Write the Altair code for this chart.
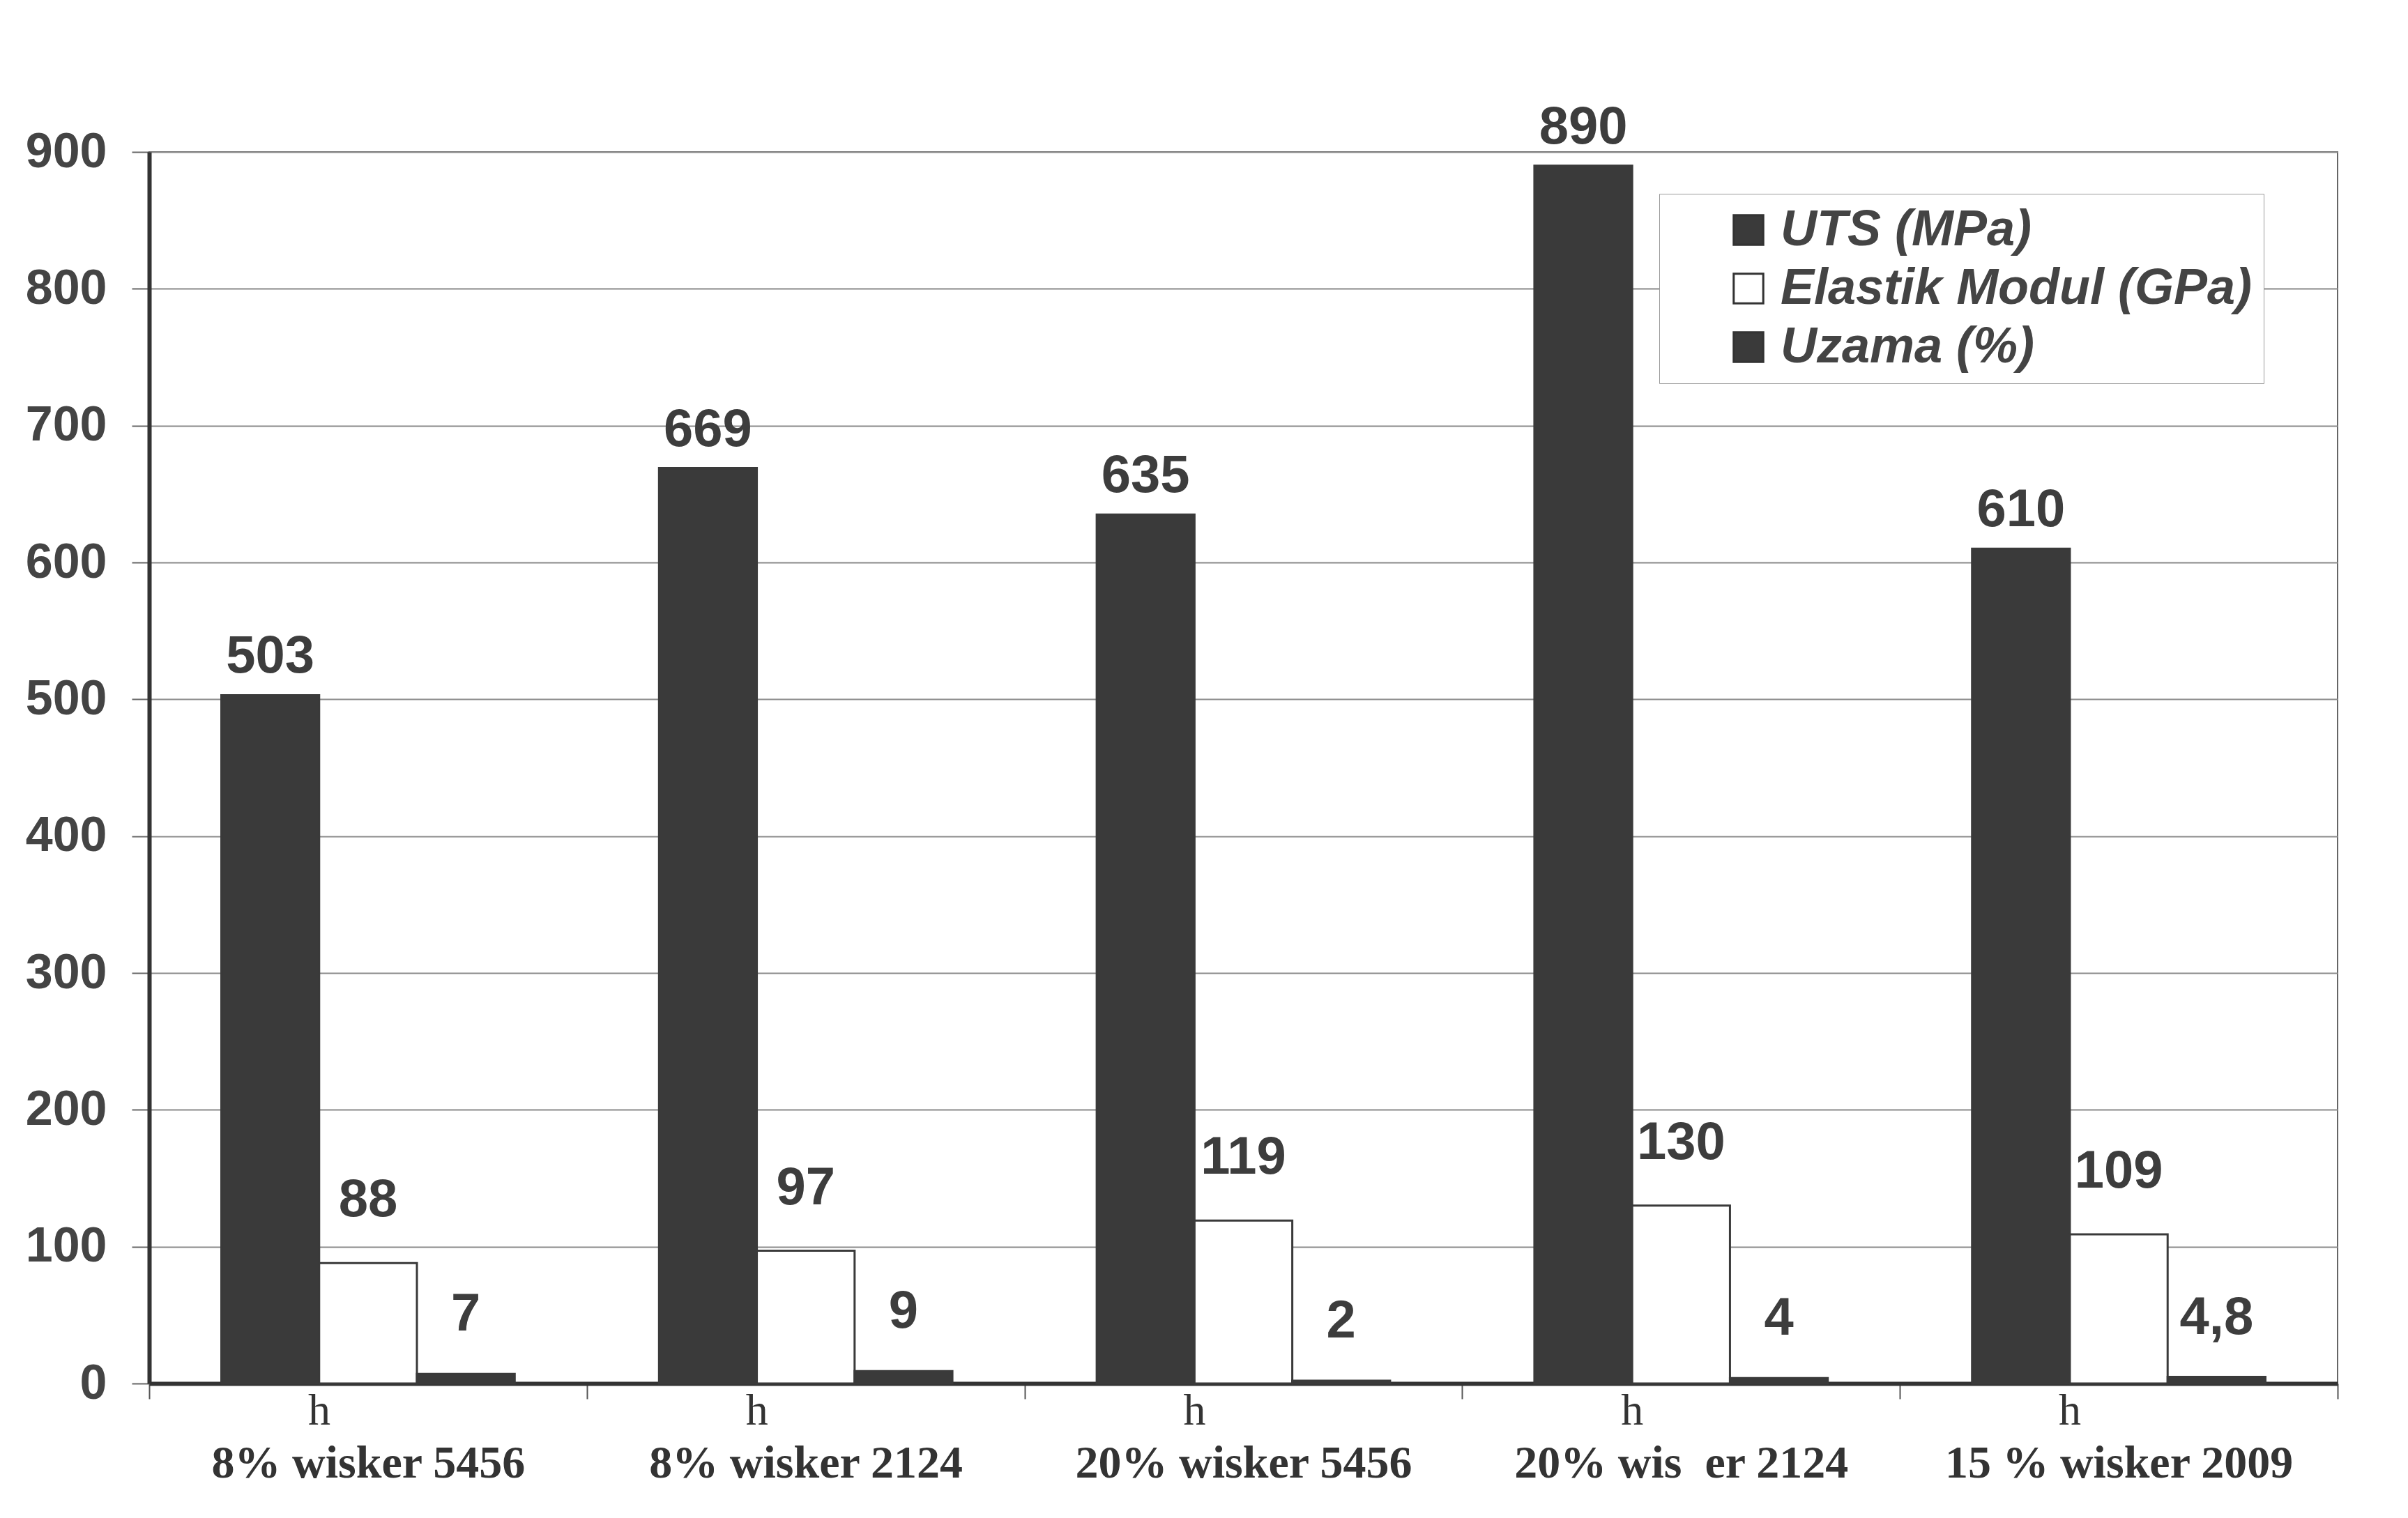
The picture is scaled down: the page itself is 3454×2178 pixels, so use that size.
import altair as alt
import pandas as pd

categories = ["8% wisker 5456", "8% wisker 2124", "20% wisker 5456",
              "20% wis\u00a0\u00a0er 2124", "15 % wisker 2009"]
series = ["UTS (MPa)", "Elastik Modul (GPa)", "Uzama (%)"]
uts = [503, 669, 635, 890, 610]
elastik = [88, 97, 119, 130, 109]
uzama = [7, 9, 2, 4, 4.8]
uts_text = ["503", "669", "635", "890", "610"]
elastik_text = ["88", "97", "119", "130", "109"]
uzama_text = ["7", "9", "2", "4", "4,8"]
y_ticks = [0, 100, 200, 300, 400, 500, 600, 700, 800, 900]

rows = []
for i, c in enumerate(categories):
    rows.append({"cat": c, "series": series[0], "value": uts[i], "label": uts_text[i]})
    rows.append({"cat": c, "series": series[1], "value": elastik[i], "label": elastik_text[i]})
    rows.append({"cat": c, "series": series[2], "value": uzama[i], "label": uzama_text[i]})
df = pd.DataFrame(rows)
hdf = pd.DataFrame({"cat": categories, "h": ["h"] * len(categories)})

W, H = 3139, 1767
DARK = "#3a3a3a"
TXT = "#3d3d3d"

x = alt.X("cat:N", sort=categories, title=None,
          scale=alt.Scale(paddingInner=0, paddingOuter=0),
          axis=alt.Axis(labelAngle=0, labelFont="Liberation Serif", labelFontWeight="bold",
                        labelFontSize=66, labelColor="#333333", labelPadding=60,
                        labelLimit=1000,
                        tickBand="extent", tickSize=22, tickWidth=2, tickColor="#555555",
                        domainColor="#333333", domainWidth=6, grid=False))
xo = alt.XOffset("series:N", sort=series,
                 scale=alt.Scale(paddingInner=0.0, paddingOuter=0.738))
y = alt.Y("value:Q", title=None,
          scale=alt.Scale(domain=[0, 900], nice=False),
          axis=alt.Axis(values=y_ticks, labelFont="Liberation Sans", labelFontWeight="bold",
                        labelFontSize=70, labelColor="#444444", labelPadding=36,
                        tickSize=25, tickWidth=2, tickColor="#666666",
                        domainColor="#333333", domainWidth=6,
                        grid=True, gridColor="#8a8a8a", gridWidth=2))

bars = alt.Chart(df).mark_bar(stroke=DARK, strokeWidth=3).encode(
    x=x, xOffset=xo, y=y,
    fill=alt.Fill("series:N", sort=series,
                  scale=alt.Scale(domain=series, range=[DARK, "#ffffff", DARK]),
                  legend=alt.Legend(title=None, orient="none", legendX=2166, legendY=60,
                                    padding=16, symbolOffset=76, symbolType="square",
                                    symbolSize=1800, symbolStrokeColor="#333333",
                                    symbolStrokeWidth=3, labelFont="Liberation Sans",
                                    labelFontWeight="bold", labelFontStyle="italic",
                                    labelFontSize=72, labelColor="#444444",
                                    labelOffset=10, rowPadding=12, labelLimit=2000,
                                    strokeColor="#9a9a9a", fillColor="#ffffff")),
)

def value_text(name, dy):
    return alt.Chart(df).transform_filter(alt.datum.series == name).mark_text(
        font="Liberation Sans", fontWeight="bold", fontSize=76,
        color=TXT, baseline="middle", align="center", dy=dy
    ).encode(x=x, xOffset=xo, y=y, text="label:N")

t1 = value_text(series[0], -55)
t2 = value_text(series[1], -90)
t3 = value_text(series[2], -85)

htext = alt.Chart(hdf).mark_text(
    font="Liberation Serif", fontSize=64, color="#333333", baseline="middle",
    align="center", dx=-70
).encode(x=alt.X("cat:N", sort=categories), y=alt.value(H + 40), text="h:N")

chart = alt.layer(bars, t1, t2, t3, htext).properties(
    width=W, height=H,
    autosize=alt.AutoSizeParams(type="none"),
    padding={"left": 214, "top": 218, "right": 101, "bottom": 193},
    background="#ffffff",
).configure_view(stroke="#666666", strokeWidth=2)

chart.save("out.html", embed_options={"renderer": "svg", "actions": False})
